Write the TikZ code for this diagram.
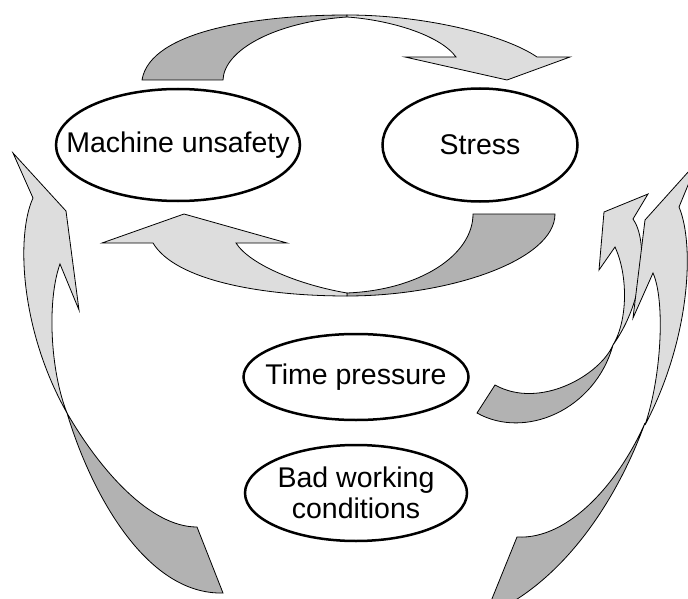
\documentclass[tikz,border=0pt]{standalone}
\usepackage{fontspec}
\setmainfont{Liberation Sans}
\usetikzlibrary{shapes.geometric}
\definecolor{lightg}{HTML}{DDDDDD}
\definecolor{darkg}{HTML}{B2B2B2}
\begin{document}
\begin{tikzpicture}[x=1pt,y=-1pt,
  light/.style={fill=lightg,draw=black,line width=0.8pt,line join=miter},
  dark/.style={fill=darkg,draw=black,line width=0.8pt,line join=miter},
  oval/.style={ellipse,draw=black,line width=2.5pt,inner sep=0pt},
  txt/.style={inner sep=0pt,align=center,font=\fontsize{28.5}{31}\selectfont}]
\useasboundingbox (0,0) rectangle (688,599);
\clip (0,0) rectangle (688,599);

% ellipses
\node[oval,minimum width=244pt,minimum height=112pt] (machine) at (178,145) {};
\node[oval,minimum width=195pt,minimum height=113pt] (stress) at (480,145) {};
\node[oval,minimum width=225pt,minimum height=86pt] (time) at (356,377) {};
\node[oval,minimum width=222pt,minimum height=96pt] (bad) at (356,493) {};
\node[txt] (machinetxt) at (machine) {Machine unsafety};
\node[txt] (stresstxt) at (stress) {Stress};
\node[txt] (timetxt) at (time) {Time pressure};
\node[txt] (badtxt) at (bad) {Bad working\\conditions};

% top arrow (Machine unsafety -> Stress)
\draw[dark] (142,80) .. controls (150,30) and (260,15) .. (347,15)
  -- (347,17) .. controls (275,22) and (224,50) .. (223,80) -- cycle;
\draw[light] (347,15) .. controls (425,15) and (505,35) .. (537,57)
  -- (570,57) -- (507,80) -- (405,57) -- (456,57)
  .. controls (440,35) and (390,20) .. (347,17) -- cycle;

% bottom arrow (Stress -> Machine unsafety)
\draw[dark] (473,214) -- (555,214) .. controls (555,260) and (450,296) .. (347,296)
  -- (347,293) .. controls (420,290) and (473,255) .. (473,214) -- cycle;
\draw[light] (347,296) .. controls (260,296) and (175,280) .. (153,243)
  -- (102,243) -- (184,214) -- (287,243) -- (236,243)
  .. controls (250,265) and (300,285) .. (347,293) -- cycle;

% left arrow (up to Machine unsafety)
\draw[light] (13,153) -- (33,198) .. controls (16,235) and (20,330) .. (67,413)
  .. controls (50,370) and (47,300) .. (60,264) -- (79,310) -- (66,211) -- cycle;
\draw[dark] (67,413) .. controls (100,470) and (150,527) .. (197,527)
  -- (223,593) .. controls (145,595) and (90,490) .. (67,413) -- cycle;

% right arrow A (from Time pressure)
\draw[dark] (613,345) .. controls (600,375) and (540,410) .. (495,385)
  -- (477,413) .. controls (525,440) and (595,410) .. (613,345) -- cycle;
\draw[light] (604,212) -- (648,194) -- (633,219) .. controls (648,240) and (645,300) .. (613,345)
  .. controls (628,320) and (628,275) .. (615,247) -- (599,270) -- cycle;

% right arrow B (from Bad working conditions)
\draw[dark] (645,423) .. controls (620,480) and (570,540) .. (517,537)
  -- (485,616) .. controls (560,585) and (615,505) .. (645,423) -- cycle;
\draw[light] (633,318) -- (645,220) -- (698,161) -- (679,207)
  .. controls (695,245) and (690,340) .. (645,425)
  .. controls (662,375) and (665,300) .. (653,273) -- cycle;
\end{tikzpicture}
\end{document}
